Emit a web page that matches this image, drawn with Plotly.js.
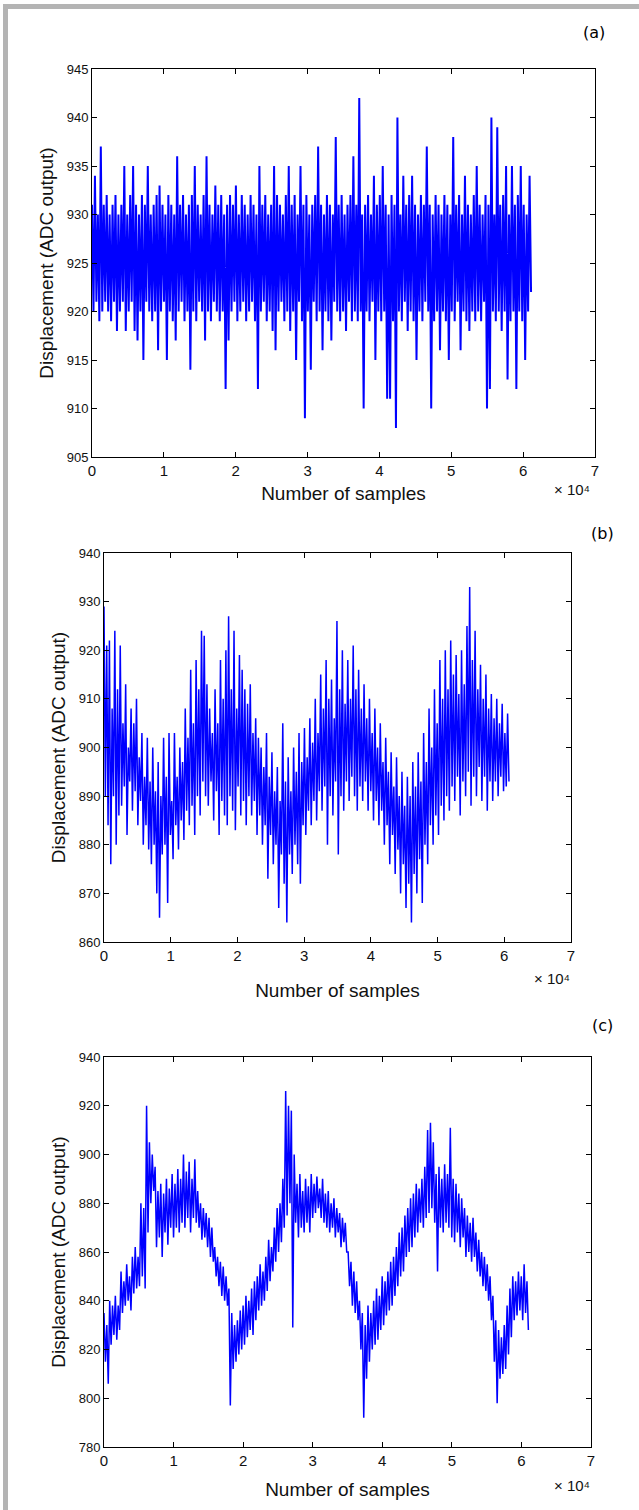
<!DOCTYPE html>
<html><head><meta charset="utf-8">
<script src="https://cdn.plot.ly/plotly-3.0.1.min.js"></script>
<style>html,body{margin:0;padding:0;background:#fff;}#chart{width:639px;height:1510px;}</style>
</head><body><div id="chart"></div>
<script>
// ---------- data ----------
const panelLabels = ['(a)', '(b)', '(c)'];
const xTickLabels = ['0', '1', '2', '3', '4', '5', '6', '7'];
const xTickValues = [0, 10000, 20000, 30000, 40000, 50000, 60000, 70000];
const xTitle = 'Number of samples';
const yTitle = 'Displacement (ADC output)';
const xExponent = '× 10⁴';
const yTicksA = [905, 910, 915, 920, 925, 930, 935, 940, 945];
const yTicksB = [860, 870, 880, 890, 900, 910, 920, 930, 940];
const yTicksC = [780, 800, 820, 840, 860, 880, 900, 920, 940];
const lastSampleA = 61100;
const lastSampleB = 60700;
const lastSampleC = 61000;

const signalA = [
931,920, 934,921, 930,919, 937,920, 931,921, 932,920, 930,919, 931,921, 932,918, 930,920,
931,921, 935,918, 930,920, 932,921, 935,918, 931,917, 930,920, 932,915, 931,921, 935,920,
930,919, 931,920, 932,916, 933,920, 931,921, 930,915, 932,920, 931,919, 930,917, 936,920,
931,921, 932,919, 930,920, 931,914, 932,920, 935,919, 931,921, 930,920, 932,917, 936,920,
931,919, 930,921, 933,920, 931,919, 932,920, 930,912, 931,917, 932,920, 931,921, 933,919,
930,920, 932,921, 931,919, 930,920, 932,921, 931,919, 930,912, 935,920, 931,921, 932,919,
930,920, 931,918, 935,916, 932,920, 931,921, 930,919, 932,920, 935,918, 931,920, 932,915,
930,921, 935,919, 931,909, 932,920, 930,914, 931,921, 932,919, 937,920, 931,916, 930,920,
932,919, 931,917, 930,921, 938,920, 931,919, 932,920, 930,918, 931,921, 932,919, 936,920,
931,919, 942,920, 930,910, 931,920, 932,919, 930,921, 934,915, 931,920, 932,919, 935,920,
931,911, 930,911, 932,919, 931,908, 940,920, 930,919, 934,921, 931,918, 932,920, 934,919,
931,915, 930,920, 932,919, 931,921, 937,920, 931,910, 930,919, 932,920, 931,916, 930,920,
932,919, 931,915, 930,920, 938,919, 931,921, 932,916, 930,920, 934,919, 931,918, 930,920,
932,919, 935,920, 931,919, 930,921, 932,910, 931,912, 940,920, 930,919, 939,920, 931,918,
932,920, 935,913, 930,919, 935,920, 931,912, 932,920, 935,919, 931,915, 930,920, 934,922
];

const signalB = [
929,890, 921,884, 922,876, 908,890, 924,880, 912,886, 921,888, 905,892, 913,882, 900,893,
908,887, 905,891, 910,884, 898,889, 903,880, 894,884, 902,879, 893,876, 900,880, 891,870,
897,865, 890,878, 902,880, 894,868, 903,882, 889,877, 903,884, 894,879, 900,885, 897,881,
908,887, 902,884, 916,888, 905,882, 918,890, 912,886, 924,893, 923,890, 913,888, 908,893,
903,885, 912,891, 905,882, 918,889, 910,886, 920,884, 927,890, 912,887, 924,883, 908,892,
919,886, 916,889, 912,884, 909,890, 913,886, 903,889, 906,882, 902,886, 900,880, 896,884,
903,873, 894,882, 899,876, 891,880, 896,867, 889,878, 905,872, 893,864, 898,878, 891,874,
900,880, 895,876, 903,872, 897,884, 904,882, 898,887, 906,884, 901,889, 910,885, 903,891,
915,887, 908,892, 918,880, 910,890, 914,886, 906,893, 926,878, 912,890, 920,887, 909,893,
918,889, 910,894, 921,890, 912,887, 916,892, 908,889, 913,893, 906,887, 910,891, 903,885,
908,889, 900,884, 905,887, 897,880, 902,884, 895,876, 899,882, 892,874, 898,879, 890,870,
895,876, 888,867, 894,872, 890,864, 897,874, 892,870, 899,877, 893,868, 903,880, 897,876,
908,884, 900,880, 912,886, 905,882, 918,888, 910,885, 920,890, 912,887, 922,892, 915,889,
919,894, 911,886, 920,893, 913,890, 925,895, 933,888, 918,894, 924,890, 912,896, 917,889,
910,894, 915,887, 908,893, 911,889, 906,893, 910,890, 905,894, 909,891, 903,892, 907,893
];

const signalC = [
835,815, 830,806, 840,822, 838,826, 842,824, 838,828, 852,835, 848,838, 855,840, 850,836,
858,843, 862,845, 858,846, 880,850, 878,845, 920,868, 905,880, 900,885, 895,862, 885,866,
888,858, 884,868, 890,863, 886,870, 892,866, 888,870, 894,868, 890,872, 900,870, 893,874,
897,868, 890,874, 898,872, 885,870, 880,865, 878,866, 876,862, 874,858, 870,856, 862,850,
858,846, 856,842, 854,840, 850,838, 845,797, 835,812, 830,815, 832,818, 836,820, 838,822,
842,825, 840,828, 845,826, 848,832, 850,836, 855,838, 852,840, 858,844, 865,848, 862,852,
870,856, 878,860, 880,864, 890,870, 926,875, 920,880, 918,829, 900,872, 888,866, 892,870,
885,868, 890,872, 887,868, 892,874, 888,876, 891,878, 886,874, 890,872, 884,870, 885,868,
880,870, 882,866, 878,868, 876,862, 874,864, 872,860, 860,846, 856,838, 852,835, 848,832,
840,820, 835,792, 830,808, 838,815, 835,820, 840,822, 845,824, 842,828, 850,830, 848,834,
852,836, 856,838, 858,842, 862,846, 868,850, 870,852, 875,858, 878,860, 882,862, 884,866,
888,868, 886,872, 890,870, 895,874, 910,876, 913,878, 905,872, 892,852, 895,870, 890,868,
896,872, 892,870, 911,866, 890,864, 888,868, 884,862, 882,866, 878,858, 875,860, 872,856,
874,858, 868,852, 865,850, 860,846, 858,844, 855,840, 850,832, 842,815, 832,798, 828,808,
825,810, 830,812, 838,818, 845,825, 850,832, 848,834, 852,836, 850,832, 855,835, 848,828
];

// ---------- layout helpers ----------
const W = 639, H = 1510;
const px = v => v / W;
const py = v => 1 - v / H;

function sampleIndex(values, lastSample) {
  return values.map((_, i) => i * lastSample / (values.length - 1));
}

const axisFont = 'Liberation Sans, Arial, sans-serif';
const titleFont = {family: axisFont, size: 19, color: '#111'};
function xAxis(b, anchor) {
  return {
    domain: [px(b.l), px(b.r)], anchor: anchor, range: [0, 70000],
    tickvals: xTickValues, ticktext: xTickLabels,
    ticks: 'inside', ticklen: 5, tickcolor: '#000', tickwidth: 1,
    showline: true, linecolor: '#000', linewidth: 1, mirror: 'ticks',
    showgrid: false, zeroline: false, fixedrange: true,
    tickfont: {family: axisFont, size: 15, color: '#111'},
    title: {text: xTitle, font: titleFont, standoff: b.xs}
  };
}
function yAxis(b, anchor, ticks) {
  return {
    domain: [py(b.b), py(b.t)], anchor: anchor,
    range: [ticks[0], ticks[ticks.length - 1]], tickvals: ticks,
    ticks: 'inside', ticklen: 5, tickcolor: '#000', tickwidth: 1,
    showline: true, linecolor: '#000', linewidth: 1, mirror: 'ticks',
    showgrid: false, zeroline: false, fixedrange: true,
    tickfont: {family: axisFont, size: 13, color: '#111'},
    title: {text: yTitle, font: titleFont, standoff: b.ys}
  };
}

// panel geometry (pixels)
const boxes = [
  {l: 92, r: 595, t: 69, b: 457, xs: 8, ys: 8, ex: 572, ey: 489, lx: 594, ly: 32, w: 2},
  {l: 104, r: 571, t: 553, b: 942, xs: 20, ys: 8, ex: 552, ey: 978, lx: 602, ly: 533, w: 1.5},
  {l: 104, r: 591, t: 1057, b: 1447, xs: 14, ys: 8, ex: 572, ey: 1485, lx: 602, ly: 1025, w: 1.5}
];

const signals = [signalA, signalB, signalC];
const lastSamples = [lastSampleA, lastSampleB, lastSampleC];
const traces = signals.map((s, i) => ({
  x: sampleIndex(s, lastSamples[i]), y: s,
  xaxis: i ? 'x' + (i + 1) : 'x', yaxis: i ? 'y' + (i + 1) : 'y',
  type: 'scatter', mode: 'lines', line: {color: '#0000ff', width: boxes[i].w}, hoverinfo: 'skip'
}));

const annotations = [];
boxes.forEach((b, i) => {
  annotations.push({xref: 'paper', yref: 'paper', x: px(b.lx), y: py(b.ly), text: panelLabels[i], showarrow: false,
    xanchor: 'center', yanchor: 'middle', font: {family: 'DejaVu Sans, Verdana, sans-serif', size: 16, color: '#000'}});
  annotations.push({xref: 'paper', yref: 'paper', x: px(b.ex), y: py(b.ey), text: xExponent, showarrow: false,
    xanchor: 'center', yanchor: 'middle', font: {family: axisFont, size: 15, color: '#111'}});
});

const shapes = [
  {type: 'rect', xref: 'paper', yref: 'paper', x0: px(3), x1: px(8), y0: 0, y1: py(4), fillcolor: '#b4b4b4', line: {width: 0}, layer: 'below'},
  {type: 'rect', xref: 'paper', yref: 'paper', x0: px(3), x1: 1, y0: py(9), y1: py(4), fillcolor: '#b4b4b4', line: {width: 0}, layer: 'below'}
];

const layout = {
  width: W, height: H, autosize: false,
  margin: {l: 0, r: 0, t: 0, b: 0, pad: 0},
  paper_bgcolor: '#fff', plot_bgcolor: '#fff', showlegend: false,
  xaxis: xAxis(boxes[0], 'y'),
  yaxis: yAxis(boxes[0], 'x', yTicksA),
  xaxis2: xAxis(boxes[1], 'y2'),
  yaxis2: yAxis(boxes[1], 'x2', yTicksB),
  xaxis3: xAxis(boxes[2], 'y3'),
  yaxis3: yAxis(boxes[2], 'x3', yTicksC),
  annotations: annotations, shapes: shapes
};

Plotly.newPlot('chart', traces, layout, {staticPlot: true, displayModeBar: false});
</script>
</body></html>
